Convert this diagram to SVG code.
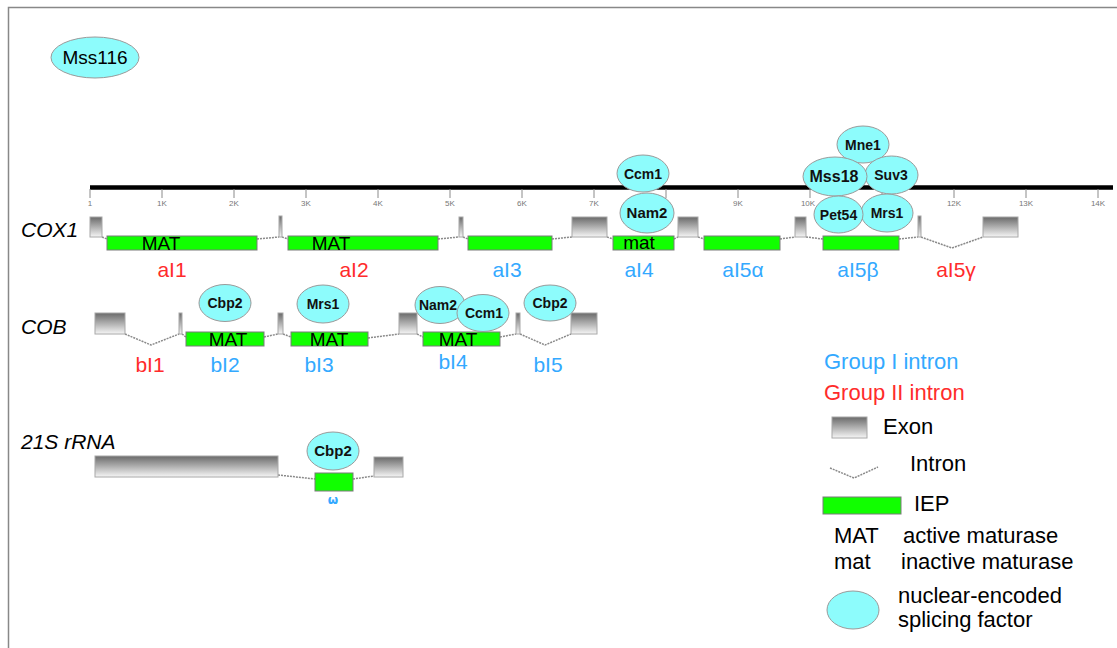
<svg xmlns="http://www.w3.org/2000/svg" width="1117" height="648" viewBox="0 0 1117 648">
<defs>
<linearGradient id="exg" x1="0" y1="0" x2="0" y2="1">
<stop offset="0" stop-color="#6a6a6a"/><stop offset="1" stop-color="#f6f6f6"/>
</linearGradient>
</defs>
<style>
.lab{font-family:"Liberation Sans",Arial,sans-serif;font-size:21px;text-anchor:middle}
.leg{font-family:"Liberation Sans",Arial,sans-serif;font-size:22px;fill:#000}
.g1{fill:#33a9ff}
.g2{fill:#ff2b2b}
.ex{fill:url(#exg);stroke:#a8a8a8;stroke-width:1}
.iep{fill:#11ff00;stroke:#7a7a7a;stroke-width:1}
.sf{fill:#8dfcfc;stroke:#9a9a9a;stroke-width:1}
.sft{font-family:"Liberation Sans",Arial,sans-serif;font-weight:bold;font-size:14px;text-anchor:middle;fill:#111}
.intr{fill:none;stroke:#8a8a8a;stroke-width:1.5;stroke-dasharray:2 1}
.mat{font-family:"Liberation Sans",Arial,sans-serif;font-size:19px;fill:#000;text-anchor:middle}
.gene{font-family:"Liberation Sans",Arial,sans-serif;font-style:italic;font-size:21px;fill:#000}
.tick{stroke:#8a8a8a;stroke-width:1}
.tl{font-family:"Liberation Sans",Arial,sans-serif;font-size:8px;fill:#777;text-anchor:middle}
</style>
<rect width="1117" height="648" fill="#fff"/>
<path d="M8.5,648 V7.5 H1117" fill="none" stroke="#888" stroke-width="1.5"/>

<g id="scale">
<line x1="90" y1="187.5" x2="1113" y2="187.5" stroke="#000" stroke-width="4.5"/>
<g class="tick">
<line x1="90" y1="189" x2="90" y2="198"/><line x1="162" y1="189" x2="162" y2="198"/><line x1="234" y1="189" x2="234" y2="198"/><line x1="306" y1="189" x2="306" y2="198"/><line x1="378" y1="189" x2="378" y2="198"/><line x1="450" y1="189" x2="450" y2="198"/><line x1="522" y1="189" x2="522" y2="198"/><line x1="594" y1="189" x2="594" y2="198"/><line x1="666" y1="189" x2="666" y2="198"/><line x1="738" y1="189" x2="738" y2="198"/><line x1="810" y1="189" x2="810" y2="198"/><line x1="882" y1="189" x2="882" y2="198"/><line x1="954" y1="189" x2="954" y2="198"/><line x1="1026" y1="189" x2="1026" y2="198"/><line x1="1098" y1="189" x2="1098" y2="198"/>
</g>
<g class="tl">
<text x="90" y="206">1</text><text x="162" y="206">1K</text><text x="234" y="206">2K</text><text x="306" y="206">3K</text><text x="378" y="206">4K</text><text x="450" y="206">5K</text><text x="522" y="206">6K</text><text x="594" y="206">7K</text><text x="738" y="206">9K</text><text x="808" y="206">10K</text><text x="954" y="206">12K</text><text x="1026" y="206">13K</text><text x="1098" y="206">14K</text>
</g>
</g>

<g id="connectors">
<path class="intr" d="M102,237 L107,239"/>
<path class="intr" d="M257,239 L279,237"/>
<path class="intr" d="M282,237 L288,239"/>
<path class="intr" d="M438,239 L459,237"/>
<path class="intr" d="M463,237 L468,239"/>
<path class="intr" d="M552,239 L572,237"/>
<path class="intr" d="M607,237 L613,239"/>
<path class="intr" d="M674,239 L678,237"/>
<path class="intr" d="M698,237 L704,239"/>
<path class="intr" d="M780,239 L795,237"/>
<path class="intr" d="M806,237 L823,239"/>
<path class="intr" d="M899,239 L918,237"/>
<path class="intr" d="M921,237 L952,248 L983,237"/>
<path class="intr" d="M125,334 L151,345 L179,334"/>
<path class="intr" d="M182,334 L186,337"/>
<path class="intr" d="M264,337 L278,334"/>
<path class="intr" d="M283,334 L291,337"/>
<path class="intr" d="M368,338 L399,334"/>
<path class="intr" d="M417,334 L423,337"/>
<path class="intr" d="M500,337 L516,334"/>
<path class="intr" d="M520,334 L545,345 L571,334"/>
<path class="intr" d="M278,475 L315,479"/>
<path class="intr" d="M353,479 L374,476"/>
</g>

<g id="mss116"><ellipse class="sf" cx="95" cy="57.5" rx="44" ry="20.5"/><text x="95" y="64" class="mat" style="font-size:19px">Mss116</text></g>

<g id="cox1">
<text class="gene" x="21" y="237">COX1</text>
<rect class="ex" x="90" y="217" width="12" height="20"/>
<rect class="ex" x="279" y="216" width="3" height="21"/>
<rect class="ex" x="459" y="217" width="4" height="20"/>
<rect class="ex" x="572" y="217" width="35" height="20"/>
<rect class="ex" x="678" y="217" width="20" height="20"/>
<rect class="ex" x="795" y="217" width="11" height="20"/>
<rect class="ex" x="918" y="216" width="3" height="21"/>
<rect class="ex" x="983" y="217" width="35" height="20"/>
<g id="aI1"><rect class="iep" x="107" y="236" width="150" height="14"/><text class="mat" x="161" y="250">MAT</text><text class="lab g2" x="172" y="277">aI1</text></g>
<g id="aI2"><rect class="iep" x="288" y="236" width="150" height="14"/><text class="mat" x="331" y="250">MAT</text><text class="lab g2" x="354" y="277">aI2</text></g>
<g id="aI3"><rect class="iep" x="468" y="236" width="84" height="14"/><text class="lab g1" x="507" y="277">aI3</text></g>
<g id="aI4"><rect class="iep" x="613" y="236" width="61" height="14"/><text class="mat" x="639" y="249">mat</text><text class="lab g1" x="639" y="277">aI4</text></g>
<g id="aI5a"><rect class="iep" x="704" y="236" width="76" height="14"/><text class="lab g1" x="743" y="277">aI5α</text></g>
<g id="aI5b"><rect class="iep" x="823" y="236" width="76" height="14"/><text class="lab g1" x="858" y="277">aI5β</text></g>
<g id="aI5g"><text class="lab g2" x="956" y="277">aI5γ</text></g>
</g>

<g id="ccm1-a"><ellipse class="sf" cx="643" cy="173.5" rx="26" ry="18.5"/><text class="sft" x="643" y="178.5">Ccm1</text></g>
<g id="nam2-a"><ellipse class="sf" cx="647" cy="213" rx="27" ry="20"/><text class="sft" x="647" y="218" style="font-size:15px">Nam2</text></g>
<g id="mne1"><ellipse class="sf" cx="863" cy="144.5" rx="26" ry="18.5"/><text class="sft" x="863" y="149.5">Mne1</text></g>
<g id="suv3"><ellipse class="sf" cx="891.5" cy="175" rx="26.5" ry="19"/><text class="sft" x="891" y="180">Suv3</text></g>
<g id="mss18"><ellipse class="sf" cx="835" cy="176.5" rx="32" ry="19.5"/><text class="sft" x="834" y="182" style="font-size:16px">Mss18</text></g>
<g id="mrs1-a"><ellipse class="sf" cx="887" cy="213" rx="26" ry="19"/><text class="sft" x="887" y="218">Mrs1</text></g>
<g id="pet54"><ellipse class="sf" cx="838.5" cy="214.5" rx="24.5" ry="18.5"/><text class="sft" x="838.5" y="219.5">Pet54</text></g>

<g id="cob">
<text class="gene" x="21" y="334">COB</text>
<rect class="ex" x="95" y="313" width="30" height="21"/>
<rect class="ex" x="179" y="313" width="3" height="21"/>
<rect class="ex" x="278" y="313" width="5" height="21"/>
<rect class="ex" x="399" y="313" width="18" height="21"/>
<rect class="ex" x="516" y="313" width="4" height="21"/>
<rect class="ex" x="571" y="313" width="26" height="21"/>
<g id="bI1"><text class="lab g2" x="150" y="372">bI1</text></g>
<g id="bI2"><rect class="iep" x="186" y="332" width="78" height="14"/><text class="mat" x="228" y="346">MAT</text><text class="lab g1" x="225" y="372">bI2</text></g>
<g id="bI3"><rect class="iep" x="291" y="332" width="77" height="14"/><text class="mat" x="329" y="346">MAT</text><text class="lab g1" x="319" y="372">bI3</text></g>
<g id="bI4"><rect class="iep" x="423" y="332" width="77" height="14"/><text class="mat" x="458" y="346">MAT</text><text class="lab g1" x="453" y="369">bI4</text></g>
<g id="bI5"><text class="lab g1" x="548" y="372">bI5</text></g>
</g>
<g id="cbp2-b2"><ellipse class="sf" cx="225" cy="303" rx="26" ry="18.5"/><text class="sft" x="225" y="308">Cbp2</text></g>
<g id="mrs1-b"><ellipse class="sf" cx="323" cy="304" rx="26" ry="19"/><text class="sft" x="323" y="309">Mrs1</text></g>
<g id="nam2-b"><ellipse class="sf" cx="440" cy="305" rx="25" ry="18.5"/><text class="sft" x="438" y="310">Nam2</text></g>
<g id="ccm1-b"><ellipse class="sf" cx="483" cy="313" rx="26" ry="18.5"/><text class="sft" x="484" y="318">Ccm1</text></g>
<g id="cbp2-b5"><ellipse class="sf" cx="550" cy="303" rx="26" ry="18"/><text class="sft" x="550" y="308">Cbp2</text></g>

<g id="rrna">
<text class="gene" x="21" y="449">21S rRNA</text>
<rect class="ex" x="95" y="456" width="183" height="21"/>
<rect class="ex" x="374" y="457" width="29" height="20"/>
<g id="omega"><rect class="iep" x="315" y="473" width="38" height="18"/><text x="333" y="504" style="font-family:'DejaVu Sans',sans-serif;font-size:12px;font-weight:bold;text-anchor:middle" class="g1">ω</text></g>
</g>
<g id="cbp2-r"><ellipse class="sf" cx="333" cy="451" rx="26" ry="19"/><text class="sft" x="333" y="456" style="font-size:15px">Cbp2</text></g>

<g id="legend">
<text class="leg g1" x="824" y="369">Group I intron</text>
<text class="leg g2" x="824" y="400">Group II intron</text>
<rect class="ex" x="832" y="417" width="35" height="21"/>
<text class="leg" x="883" y="434">Exon</text>
<path class="intr" d="M830,468 L854,478 L878,467"/>
<text class="leg" x="910" y="471">Intron</text>
<rect class="iep" x="823" y="497" width="78" height="17"/>
<text class="leg" x="914" y="511">IEP</text>
<text class="leg" x="834" y="543">MAT</text>
<text class="leg" x="903" y="543">active maturase</text>
<text class="leg" x="834" y="569">mat</text>
<text class="leg" x="901" y="569">inactive maturase</text>
<ellipse class="sf" cx="853" cy="610" rx="26" ry="19"/>
<text class="leg" x="898" y="603">nuclear-encoded</text>
<text class="leg" x="898" y="627">splicing factor</text>
</g>
</svg>
